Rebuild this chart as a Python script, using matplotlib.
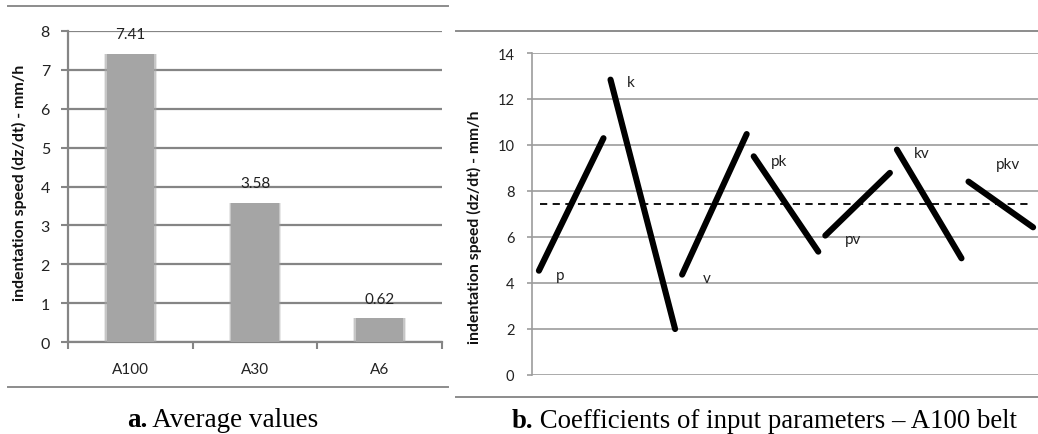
import matplotlib
matplotlib.use("Agg")
import matplotlib.pyplot as plt
from matplotlib.lines import Line2D

# ---- data ----
belts = ["A100", "A30", "A6"]
avg_speed = [7.41, 3.58, 0.62]

factors = ["p", "k", "v", "pk", "pv", "kv", "pkv"]
coef_start = [4.52, 12.84, 4.35, 9.50, 6.05, 9.79, 8.40]
coef_end = [10.29, 1.98, 10.47, 5.35, 8.78, 5.06, 6.41]
mean_speed = 7.41

left_yticks = [0, 1, 2, 3, 4, 5, 6, 7, 8]
right_yticks = [0, 2, 4, 6, 8, 10, 12, 14]

AX_FONT = "Lato"
CAP_FONT = "Liberation Serif"
W, H = 1038, 435
fig = plt.figure(figsize=(W / 100, H / 100), dpi=100)

def fx(px):
    return px / W

def fy(py):
    return 1 - py / H

# ---------- panel a ----------
ax1 = fig.add_axes([fx(68.3), fy(343.3), fx(441.7) - fx(68.3), fy(31.7) - fy(343.3)])
xs = list(range(len(belts)))
# soft-edged bars (layered)
ax1.bar(xs, avg_speed, width=0.42, color="#a6a6a6", alpha=0.25, linewidth=0, zorder=3)
ax1.bar(xs, avg_speed, width=0.405, color="#a6a6a6", alpha=0.5, linewidth=0, zorder=3)
ax1.bar(xs, avg_speed, width=0.385, color="#a5a5a5", linewidth=0, zorder=3)
for x, v in zip(xs, avg_speed):
    ax1.annotate(f"{v:.2f}", (x, v), xytext=(0, 14), textcoords="offset points",
                 ha="center", va="center", fontsize=11, family=AX_FONT, color="#222222", zorder=4)
ax1.set_xlim(-0.5, len(belts) - 0.5)
ax1.set_ylim(0, 8)
ax1.set_yticks(left_yticks)
ax1.set_yticklabels([str(t) for t in left_yticks], fontsize=11.5, family=AX_FONT, color="#222222")
ax1.yaxis.grid(True, color="#858585", linewidth=1.6, zorder=1)
ax1.set_axisbelow(True)
ax1.set_xticks([-0.5, 0.5, 1.5, 2.5])
ax1.set_xticklabels([])
ax1.set_xticks(xs, minor=True)
ax1.set_xticklabels(belts, minor=True, fontsize=11, family=AX_FONT, color="#222222")
ax1.tick_params(axis="x", which="major", length=5, color="#858585", width=1.5)
ax1.tick_params(axis="x", which="minor", length=0, pad=14)
ax1.tick_params(axis="y", length=4.8, color="#858585", width=1.5, pad=8.4)
for s in ["top", "right"]:
    ax1.spines[s].set_visible(False)
for s in ["left", "bottom"]:
    ax1.spines[s].set_color("#858585")
    ax1.spines[s].set_linewidth(1.6)
ax1.set_ylabel("indentation speed (dz/dt) - mm/h", fontsize=11.5, family=AX_FONT,
               fontweight="bold", color="#111111")
ax1.yaxis.set_label_coords((27 - 68.3) / (441.7 - 68.3), (343.3 - 182.5) / (343.3 - 31.7))

# ---------- panel b ----------
sp = 71.6
c0 = 571.2
ax_left, ax_bot, ax_top = 531.7, 375.5, 54.0
xl0 = (ax_left - c0) / sp
xl1 = (W - c0) / sp
ax2 = fig.add_axes([fx(ax_left), fy(ax_bot), 1 - fx(ax_left), fy(ax_top) - fy(ax_bot)])
hw = 0.451
for i, (a, b) in enumerate(zip(coef_start, coef_end)):
    ax2.plot([i - hw, i + hw], [a, b], color="black", linewidth=4.4,
             solid_capstyle="round", zorder=4)
ax2.plot([(540 - c0) / sp, (1028 - c0) / sp], [mean_speed, mean_speed], color="black",
         linewidth=1.3, linestyle=(0, (4, 3)), zorder=3)
label_off = [(0.293, -0.19), (0.289, -0.11), (0.339, -0.16), (0.349, -0.19),
             (0.381, -0.14), (0.349, -0.14), (0.545, 0.77)]
for i, (name, a) in enumerate(zip(factors, coef_start)):
    dx, dy = label_off[i]
    ax2.text(i - hw + dx, a + dy, name, ha="center", va="center", fontsize=11,
             family=AX_FONT, color="#222222", zorder=5)
ax2.set_xlim(xl0, xl1)
ax2.set_ylim(0, 14)
ax2.set_yticks(right_yticks)
ax2.set_yticklabels([str(t) for t in right_yticks], fontsize=10.5, family=AX_FONT, color="#222222")
ax2.set_xticks([])
ax2.yaxis.grid(True, color="#9c9c9c", linewidth=1.2, zorder=1)
ax2.set_axisbelow(True)
ax2.tick_params(axis="y", length=3.8, color="#9c9c9c", width=1.2, pad=8.6)
for s in ["top", "right", "bottom"]:
    ax2.spines[s].set_visible(False)
ax2.spines["left"].set_color("#9c9c9c")
ax2.spines["left"].set_linewidth(1.2)
ax2.set_ylabel("indentation speed (dz/dt) - mm/h", fontsize=11.3, family=AX_FONT,
               fontweight="bold", color="#111111")
ax2.yaxis.set_label_coords((481.7 - ax_left) / (W - ax_left), (ax_bot - 227) / (ax_bot - ax_top))

# ---------- separators & captions ----------
sep_col = "#8c8c8c"
for (x0, x1, y) in [(8.3, 448.3, 7.3), (8.3, 448.3, 388.3), (456, W, 32.3), (456, W, 397.7)]:
    fig.add_artist(Line2D([fx(x0), fx(x1)], [fy(y), fy(y)], color=sep_col, linewidth=1.4,
                          transform=fig.transFigure))

def caption(cx, base_y, bold, rest, size):
    t1 = fig.text(0, fy(base_y), bold, fontsize=size, family=CAP_FONT, fontweight="bold",
                  va="baseline")
    t2 = fig.text(0, fy(base_y), rest, fontsize=size, family=CAP_FONT, va="baseline")
    fig.canvas.draw()
    r = fig.canvas.get_renderer()
    w1 = t1.get_window_extent(r).width
    w2 = t2.get_window_extent(r).width
    x0 = cx - (w1 + w2) / 2
    t1.set_x(fx(x0))
    t2.set_x(fx(x0 + w1))

caption(222.5, 426.7, "a.", " Average values", 19.5)
caption(764.3, 428.5, "b.", " Coefficients of input parameters \u2013 A100 belt", 19.3)

fig.savefig("out.png", dpi=100)
